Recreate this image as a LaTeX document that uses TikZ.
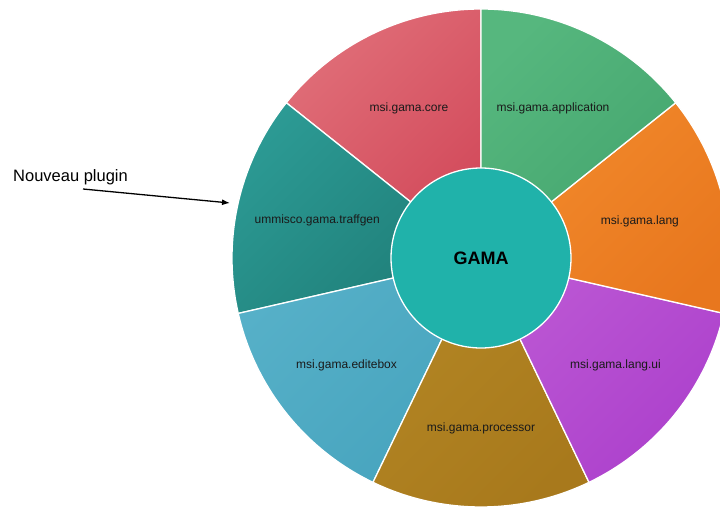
\documentclass[tikz,border=0pt]{standalone}
\usepackage{fontspec}
\setmainfont{Liberation Sans}
\usetikzlibrary{arrows.meta,calc}
\definecolor{coreA}{HTML}{E06E78}\definecolor{coreB}{HTML}{D2495A}
\definecolor{appA}{HTML}{56B77E}\definecolor{appB}{HTML}{44A56E}
\definecolor{langA}{HTML}{F28A2C}\definecolor{langB}{HTML}{E8771E}
\definecolor{uiA}{HTML}{BC58D4}\definecolor{uiB}{HTML}{AC40CC}
\definecolor{procA}{HTML}{B38624}\definecolor{procB}{HTML}{A8791C}
\definecolor{editA}{HTML}{56B0C8}\definecolor{editB}{HTML}{47A4BE}
\definecolor{trafA}{HTML}{2C9A94}\definecolor{trafB}{HTML}{1F7E78}
\definecolor{centerc}{HTML}{20B2AA}
\definecolor{labelc}{HTML}{1A1A1A}
\tikzset{
  seg/.style 2 args={draw=white, line width=1.3pt, top color=#1, bottom color=#2, shading angle=45},
  seglabel/.style={font=\fontsize{12}{14}\selectfont, text=labelc, inner sep=0pt},
  note/.style={font=\fontsize{16.5}{19}\selectfont, text=black, inner sep=0pt, anchor=base west},
  pointer/.style={line width=1.3pt, -{Latex[length=8pt,width=6pt]}}
}
\begin{document}
\begin{tikzpicture}[x=1pt,y=1pt]
\useasboundingbox (0,0) rectangle (720,507);
\clip (0,0) rectangle (720,507);
\coordinate (C) at (481,249);
\def\R{249}
\def\ri{90}
% segments (counterclockwise from 90 deg)
\path[seg={coreA}{coreB}] (C) -- ++(90:\R) arc[start angle=90, end angle=141.43, radius=\R] -- cycle;
\path[seg={trafA}{trafB}] (C) -- ++(141.43:\R) arc[start angle=141.43, end angle=192.86, radius=\R] -- cycle;
\path[seg={editA}{editB}] (C) -- ++(192.86:\R) arc[start angle=192.86, end angle=244.29, radius=\R] -- cycle;
\path[seg={procA}{procB}] (C) -- ++(244.29:\R) arc[start angle=244.29, end angle=295.71, radius=\R] -- cycle;
\path[seg={uiA}{uiB}] (C) -- ++(295.71:\R) arc[start angle=295.71, end angle=347.14, radius=\R] -- cycle;
\path[seg={langA}{langB}] (C) -- ++(347.14:\R) arc[start angle=347.14, end angle=398.57, radius=\R] -- cycle;
\path[seg={appA}{appB}] (C) -- ++(38.57:\R) arc[start angle=38.57, end angle=90, radius=\R] -- cycle;
% centre
\node[circle, fill=centerc, draw=white, line width=1.3pt, minimum size=180pt, inner sep=0pt,
      font=\bfseries\fontsize{18}{20}\selectfont] (gama) at (C) {GAMA};
% labels
\node[seglabel] (core) at ($(C)+(115.71:166)$) {msi.gama.core};
\node[seglabel] (traf) at ($(C)+(167.14:168)$) {ummisco.gama.traffgen};
\node[seglabel] (edit) at ($(C)+(218.57:172)$) {msi.gama.editebox};
\node[seglabel] (proc) at ($(C)+(270:170)$) {msi.gama.processor};
\node[seglabel] (ui) at ($(C)+(321.43:172)$) {msi.gama.lang.ui};
\node[seglabel] (lang) at ($(C)+(12.86:163)$) {msi.gama.lang};
\node[seglabel] (app) at ($(C)+(64.29:166)$) {msi.gama.application};
% annotation
\node[note] (nouveau) at (13,326) {Nouveau plugin};
\coordinate (from) at (83,318);
\coordinate (tip) at (230,304);
\draw[pointer] (from) -- (tip);
\end{tikzpicture}
\end{document}
